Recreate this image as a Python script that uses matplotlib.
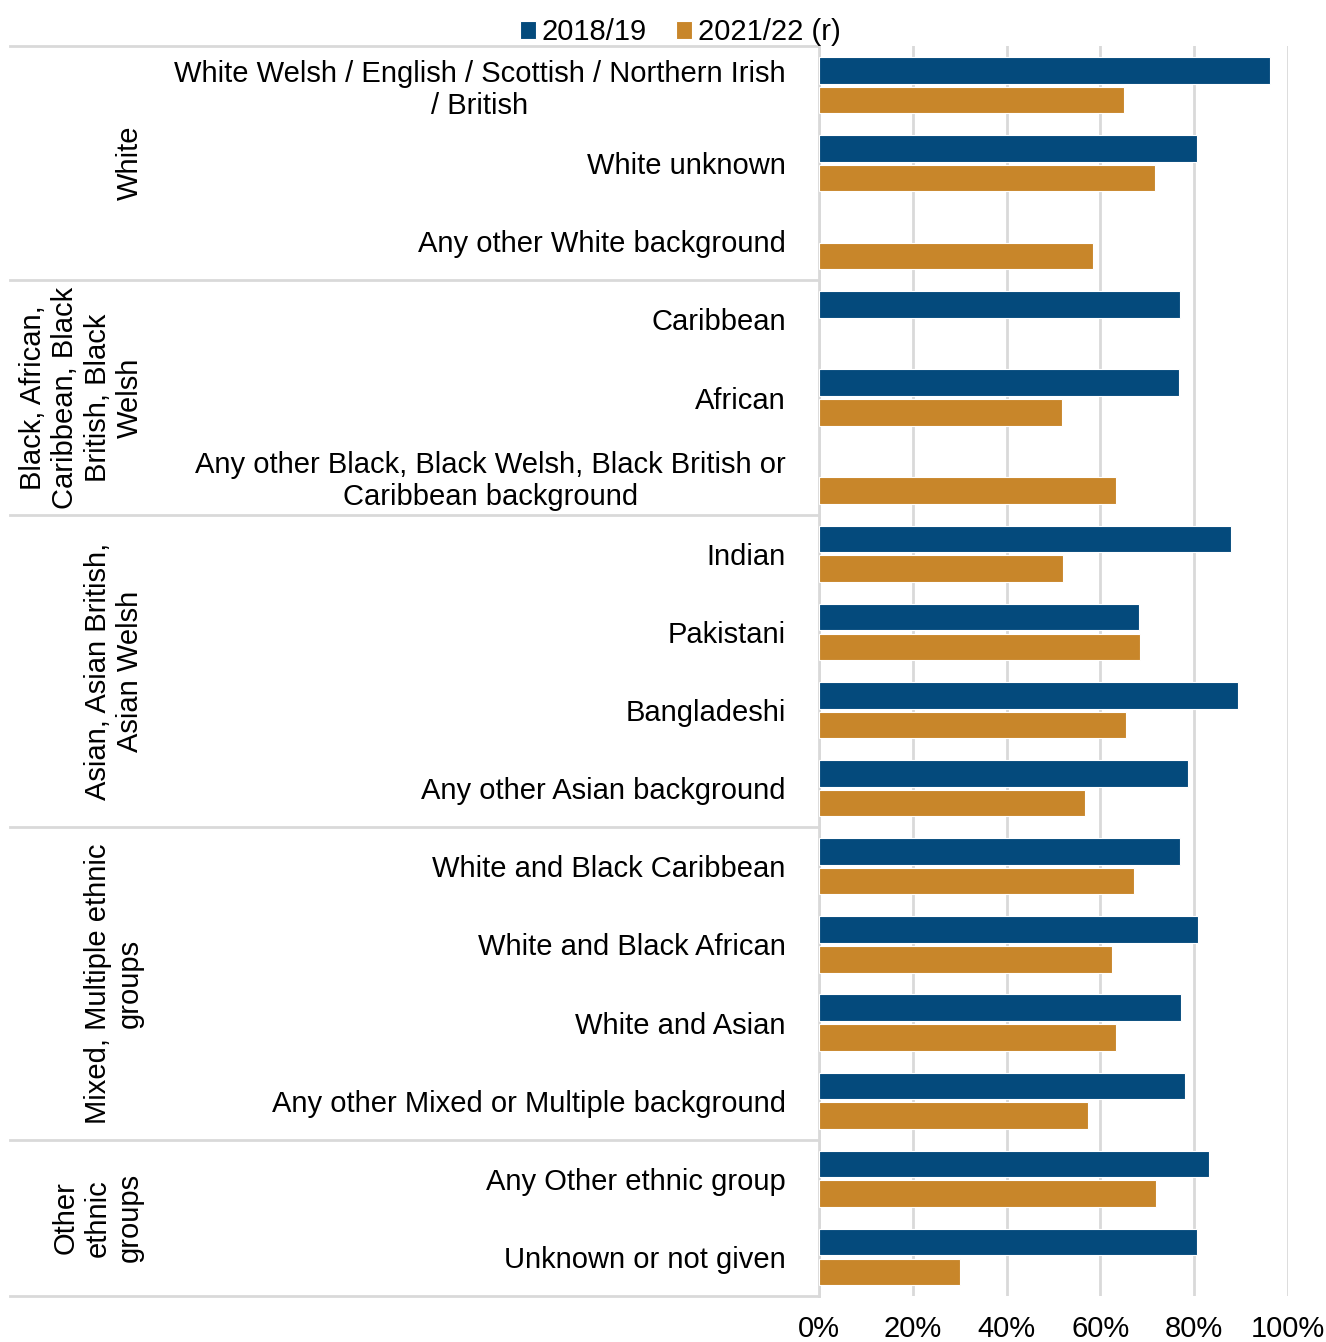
import numpy as np
import matplotlib.pyplot as plt
from matplotlib.transforms import blended_transform_factory

plt.rcParams['font.family'] = ['Liberation Sans', 'DejaVu Sans']

# Data
categories = [
    'White Welsh / English / Scottish / Northern Irish\n/ British',
    'White unknown',
    'Any other White background',
    'Caribbean',
    'African',
    'Any other Black, Black Welsh, Black British or\nCaribbean background',
    'Indian',
    'Pakistani',
    'Bangladeshi',
    'Any other Asian background',
    'White and Black Caribbean',
    'White and Black African',
    'White and Asian',
    'Any other Mixed or Multiple background',
    'Any Other ethnic group',
    'Unknown or not given',
]
y2018 = [96.2, 80.6, np.nan, 77.0, 76.8, np.nan, 87.8, 68.2, 89.3, 78.7,
         77.0, 80.8, 77.2, 78.0, 83.2, 80.6]
y2021 = [65.0, 71.6, 58.4, np.nan, 51.8, 63.3, 52.0, 68.4, 65.5, 56.7,
         67.2, 62.5, 63.3, 57.4, 71.9, 30.1]
groups = ['White', 'Black, African,\nCaribbean, Black\nBritish, Black\nWelsh',
          'Asian, Asian British,\nAsian Welsh', 'Mixed, Multiple ethnic\ngroups',
          'Other\nethnic\ngroups']
group_sizes = [3, 3, 4, 4, 2]
series_names = ['2018/19', '2021/22 (r)']

blue = '#044a7c'
orange = '#c8862a'
grid = '#d9d9d9'
fs = 21

fig = plt.figure(figsize=(13.26, 13.42), dpi=100)
W, H = 1326, 1342
ax = fig.add_axes([819 / W, 46 / H, (1288 - 819) / W, (1296 - 46) / H])

y = np.arange(len(categories))
h = 0.34
ax.barh(y - 0.19, y2018, height=h, color=blue, edgecolor='white', linewidth=0.8,
        label=series_names[0], zorder=3)
ax.barh(y + 0.19, y2021, height=h, color=orange, edgecolor='white', linewidth=0.8,
        label=series_names[1], zorder=3)

ax.set_ylim(len(categories) - 0.5, -0.5)
ax.set_xlim(0, 100)
ax.set_xticks(np.arange(0, 101, 20))
ax.set_xticklabels([f'{v}%' for v in range(0, 101, 20)], fontsize=fs)
ax.set_yticks(y)
ax.set_yticklabels(categories, fontsize=fs, multialignment='center')
ax.tick_params(axis='y', length=0, pad=24)
ax.tick_params(axis='x', length=0, pad=14)
ax.xaxis.grid(True, color=grid, linewidth=2, zorder=0)
for s in ['top', 'right', 'bottom']:
    ax.spines[s].set_visible(False)
ax.spines['left'].set_color(grid)
ax.spines['left'].set_linewidth(2)

# group separators and labels
trans = blended_transform_factory(fig.transFigure, ax.transData)
start = -0.5
for g, n in zip(groups, group_sizes):
    ax.plot([10 / W, 819 / W], [start, start], transform=trans, color=grid,
            linewidth=2, clip_on=False)
    ax.text(144 / W, start + n / 2, g, transform=trans, rotation=90,
            ha='right', va='center', multialignment='center', fontsize=fs)
    start += n
ax.plot([10 / W, 819 / W], [start, start], transform=trans, color=grid,
        linewidth=2, clip_on=False)

fig.legend(loc='upper center', bbox_to_anchor=(0.513, 1.006), ncol=2, frameon=False,
           fontsize=fs, handlelength=0.55, handleheight=0.55, handletextpad=0.2,
           columnspacing=1.0)

fig.savefig('out.png')
